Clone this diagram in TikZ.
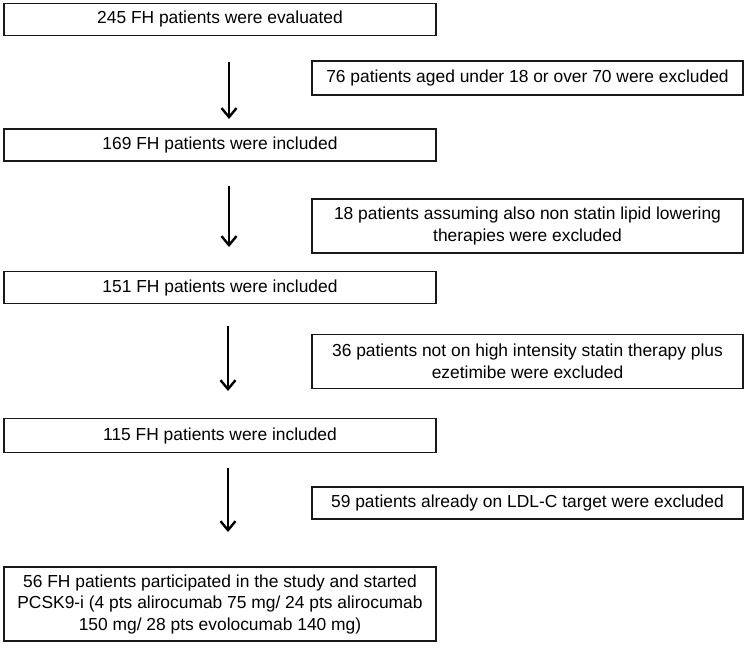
\documentclass[tikz,border=0pt]{standalone}
\usepackage{fontspec}
\setmainfont{Liberation Sans}
\usepackage{tikz}
\usetikzlibrary{arrows.meta,positioning}

\begin{document}
\begin{tikzpicture}[x=1pt,y=-1pt,
  box/.style={draw=black!90,line width=1.6pt,minimum width=432pt,minimum height=32pt,
    inner sep=0pt,align=center,font=\fontsize{17.4}{21.5}\selectfont},
  sidebox/.style={box,minimum width=431pt,minimum height=33pt},
  arr/.style={line width=2.4pt,-{Straight Barb[length=9pt,width=15pt,line width=2.4pt]}}]
  \useasboundingbox (0,0) rectangle (749,648);
  % main flow
  \node[box] (eval) at (220,19.5) {245 FH patients were evaluated};
  \node[box] (incl1) at (220,145) {169 FH patients were included};
  \node[box] (incl2) at (220,287.5) {151 FH patients were included};
  \node[box,minimum height=34pt] (incl3) at (220,435.5) {115 FH patients were included};
  \node[box,minimum height=74pt] (final) at (220,604)
    {56 FH patients participated in the study and started\\
     PCSK9-i (4 pts alirocumab 75 mg/ 24 pts alirocumab\\
     150 mg/ 28 pts evolocumab 140 mg)};
  % exclusions
  \node[sidebox,minimum height=34pt] (excl1) at (527.5,78) {76 patients aged under 18 or over 70 were excluded};
  \node[sidebox,minimum height=54pt] (excl2) at (527.5,226)
    {18 patients assuming also non statin lipid lowering\\therapies were excluded};
  \node[sidebox,minimum height=54pt] (excl3) at (527.5,361.5)
    {36 patients not on high intensity statin therapy plus\\ezetimibe were excluded};
  \node[sidebox,minimum height=32pt] (excl4) at (527.5,503) {59 patients already on LDL-C target were excluded};
  % arrows
  \coordinate (a1s) at (229,62);  \coordinate (a1e) at (229,119);
  \coordinate (a2s) at (229,186); \coordinate (a2e) at (229,247);
  \coordinate (a3s) at (228,326); \coordinate (a3e) at (228,391);
  \coordinate (a4s) at (228,468); \coordinate (a4e) at (228,532);
  \draw[arr] (a1s) -- (a1e);
  \draw[arr] (a2s) -- (a2e);
  \draw[arr] (a3s) -- (a3e);
  \draw[arr] (a4s) -- (a4e);
\end{tikzpicture}
\end{document}
